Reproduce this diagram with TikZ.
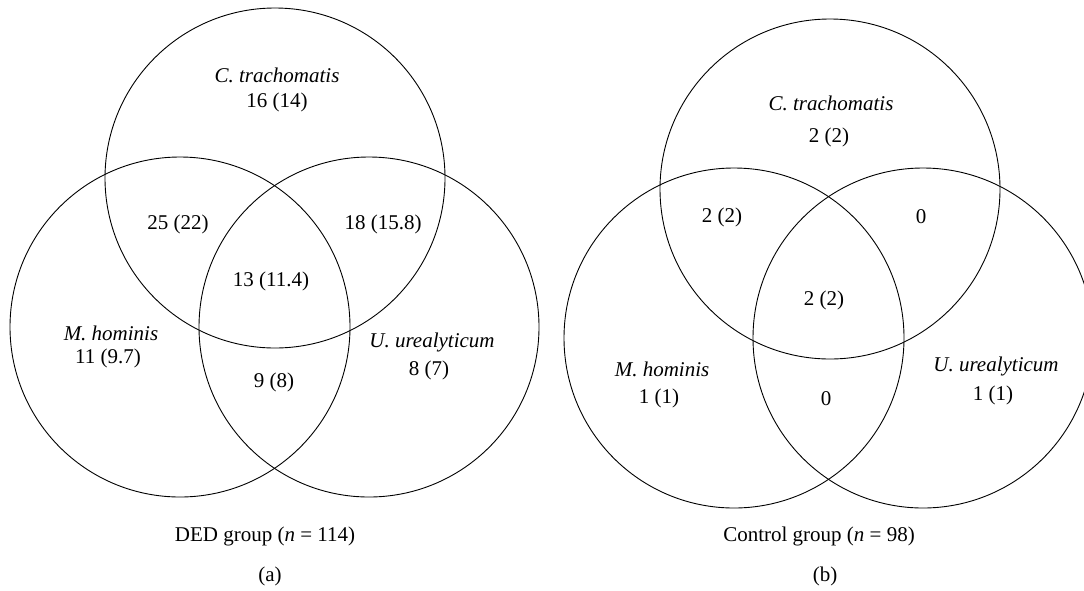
\documentclass[tikz,border=0pt]{standalone}
\usepackage{fontspec}
\setmainfont{Liberation Serif}
\begin{document}
\begin{tikzpicture}[x=1pt, y=-1pt,
    venn/.style={draw, circle, line width=0.9pt, minimum size=340pt, inner sep=0pt},
    lbl/.style={font=\fontsize{21}{25}\selectfont, inner sep=0pt}]
  \useasboundingbox (0,0) rectangle (1084,590);
  \clip (0,0) rectangle (1084,590);
  %(a) DED group
  \node [venn] (ctA) at (275,178) {};
  \node [venn] (mhA) at (180,327) {};
  \node [venn] (uuA) at (369,327) {};
  \node [lbl] (ctAname) at (277,75) {\textit{C. trachomatis}};
  \node [lbl] (ctAval) at (277,102) {16 (14)};
  \node [lbl] (ctmhA) at (178,224) {25 (22)};
  \node [lbl] (ctuuA) at (383,224) {18 (15.8)};
  \node [lbl] (allA) at (271,281) {13 (11.4)};
  \node [lbl] (mhAname) at (111,333) {\textit{M. hominis}};
  \node [lbl] (mhAval) at (108,358) {11 (9.7)};
  \node [lbl] (uuAname) at (432,342) {\textit{U. urealyticum}};
  \node [lbl] (uuAval) at (429,370) {8 (7)};
  \node [lbl] (mhuuA) at (274,382) {9 (8)};
  \node [lbl] (groupA) at (265,536) {DED group (\textit{n} = 114)};
  \node [lbl] (capA) at (270,576) {(a)};
  %(b) control group
  \node [venn] (ctB) at (830,189) {};
  \node [venn] (mhB) at (734,338) {};
  \node [venn] (uuB) at (923,338) {};
  \node [lbl] (ctBname) at (831,103) {\textit{C. trachomatis}};
  \node [lbl] (ctBval) at (829,137) {2 (2)};
  \node [lbl] (ctmhB) at (722,217) {2 (2)};
  \node [lbl] (ctuuB) at (921,217) {0};
  \node [lbl] (allB) at (824,300) {2 (2)};
  \node [lbl] (mhBname) at (662,369) {\textit{M. hominis}};
  \node [lbl] (mhBval) at (659,398) {1 (1)};
  \node [lbl] (uuBname) at (996,366) {\textit{U. urealyticum}};
  \node [lbl] (uuBval) at (993,395) {1 (1)};
  \node [lbl] (mhuuB) at (826,399) {0};
  \node [lbl] (groupB) at (819,536) {Control group (\textit{n} = 98)};
  \node [lbl] (capB) at (825,576) {(b)};
\end{tikzpicture}
\end{document}
